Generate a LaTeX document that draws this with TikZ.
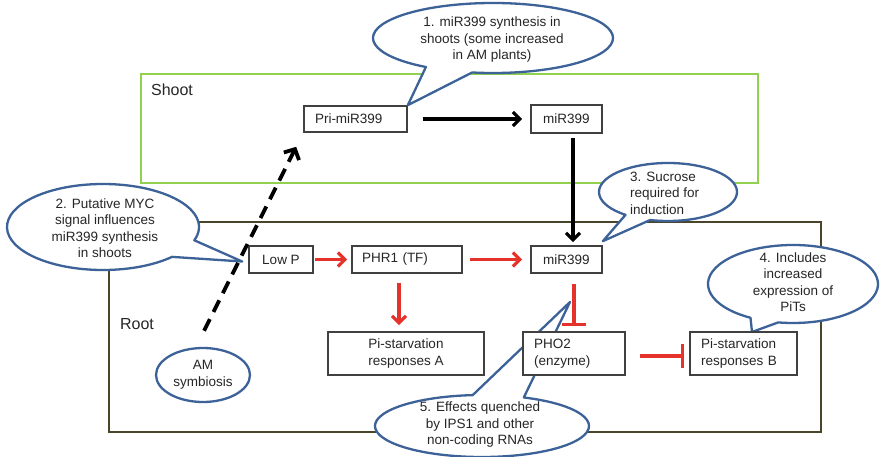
\documentclass[tikz,border=0pt]{standalone}
\usepackage{fontspec}
\setmainfont{Liberation Sans}
\usetikzlibrary{arrows.meta,calc,shapes.geometric}
\definecolor{shootgreen}{HTML}{92D050}
\definecolor{rootolive}{HTML}{4A4528}
\definecolor{callblue}{HTML}{3C6298}
\definecolor{inred}{HTML}{E5322B}
% #1 centre, #2 x radius, #3 y radius, #4 start angle, #5 end angle, #6 tip
\newcommand\bubblepath[6]{\draw[bubble] ($(#1)+(#4:#2 and #3)$) arc[start angle=#4, end angle=#5, x radius=#2, y radius=#3] -- (#6) -- cycle;}
\begin{document}
\begin{tikzpicture}[x=1pt,y=-1pt,
  every node/.style={text=black!85},
  nbox/.style={draw=black!75, line width=1.7pt, fill=white, inner xsep=10pt, inner ysep=0pt, font=\fontsize{13.5}{16.5}\selectfont},
  bubble/.style={draw=callblue, line width=2.3pt, fill=white, line join=round},
  btext/.style={font=\fontsize{13.5}{16.5}\selectfont, align=center, inner sep=0pt},
  lbl/.style={font=\fontsize{16}{19}\selectfont, inner sep=0pt},
  blkarr/.style={draw=black, line width=3.2pt, -{Straight Barb[length=7pt,width=14pt]}},
  redarr/.style={draw=inred, line width=3.2pt, -{Straight Barb[length=7pt,width=14pt]}},
  redbar/.style={draw=inred, line width=3.2pt, -{Bar[width=24pt]}},
  dasharr/.style={draw=black, line width=3.8pt, dash pattern=on 13pt off 8pt, -{Straight Barb[length=8pt,width=17pt]}}]
\useasboundingbox (0,0) rectangle (883,457);
\fill[white] (0,0) rectangle (883,457);

% compartments
\draw[shootgreen, line width=2.4pt] (141,74) rectangle (758,183);
\draw[rootolive, line width=2.4pt] (109,222) rectangle (821,432);
\node[lbl] (shootlbl) at (172,90) {Shoot};
\node[lbl] (rootlbl) at (137,324) {Root};

% boxes
\node[nbox, minimum height=26pt, inner xsep=11pt, text width=81pt, align=left] (pri) at (355.5,119) {Pri-miR399};
\node[nbox, minimum width=71pt, minimum height=28pt] (ms) at (566.5,119) {miR399};
\node[nbox, minimum width=71pt, minimum height=27pt] (mr) at (566.5,259.5) {miR399};
\node[nbox, minimum width=64pt, minimum height=27pt] (lowp) at (281,259.5) {Low P};
\node[nbox, minimum height=27pt, inner xsep=10pt, text width=90pt, align=left] (phr) at (407,259.5) {PHR1 (TF)};
\node[nbox, minimum width=156pt, minimum height=43pt, align=center] (pa) at (406,353.5) {Pi-starvation\\responses A};

% callouts
\bubblepath{493,38}{120}{35}{124}{460}{pri.north east}
\node[btext] (c1) at (492,40) {1. miR399 synthesis in\\shoots (some increased\\in AM plants)};
\bubblepath{103,227}{96}{43}{44}{378}{[xshift=-6pt,yshift=-2pt]lowp.west}
\node[btext] (c2) at (105,228) {2. Putative MYC\\signal influences\\miR399 synthesis\\in shoots};
\bubblepath{668,192}{69}{29}{128}{465}{[yshift=4pt]mr.north east}
\node[btext, align=left, anchor=west] (c3) at (630,193) {3. Sucrose\\required for\\induction};
\bubblepath{793,284}{85}{39}{120}{460}{[xshift=8.5pt]743.5,332}
\node[btext] (c4) at (793,282) {4. Includes\\increased\\expression of\\PiTs};
\bubblepath{482,426}{107}{31}{293}{625}{570,302}
\node[btext] (c5) at (480,425) {5. Effects quenched\\by IPS1 and other\\non-coding RNAs};

% AM symbiosis
\node[ellipse, draw=callblue, line width=2.3pt, fill=white, minimum width=94pt, minimum height=54pt, btext] (am) at (203,375) {AM\\symbiosis};

% remaining boxes
\node[nbox, minimum height=43pt, inner xsep=11pt, text width=80pt, align=left] (pho) at (574,353.5) {PHO2\\(enzyme)};
\node[nbox, minimum height=43pt, inner xsep=11pt, text width=85pt, align=left] (pb) at (743.5,353.5) {Pi-starvation\\responses B};

% connectors
\draw[blkarr, shorten <=15pt, shorten >=8pt] (pri) -- (ms);
\draw[blkarr, shorten <=4pt, shorten >=3pt] ([xshift=6.5pt]ms.south) -- ([xshift=6.5pt]mr.north);
\draw[redarr, shorten <=1pt, shorten >=4pt] (lowp) -- (phr);
\draw[redarr, shorten <=7pt, shorten >=8pt] (phr) -- (mr);
\draw[redarr, shorten <=9pt, shorten >=6pt] ([xshift=-8pt]phr.south) -- ([xshift=-7pt]pa.north);
\draw[redbar, shorten <=10pt, shorten >=5pt] (mr.south -| pho.north) -- (pho.north);
\draw[redbar, shorten <=14pt, shorten >=5pt] ([yshift=-2.5pt]pho.east) -- ([yshift=-2.5pt]pb.west);
\draw[dasharr, shorten <=18pt, shorten >=15.6pt] ([xshift=-7pt]am.north) -- (pri.south west);
\end{tikzpicture}
\end{document}
